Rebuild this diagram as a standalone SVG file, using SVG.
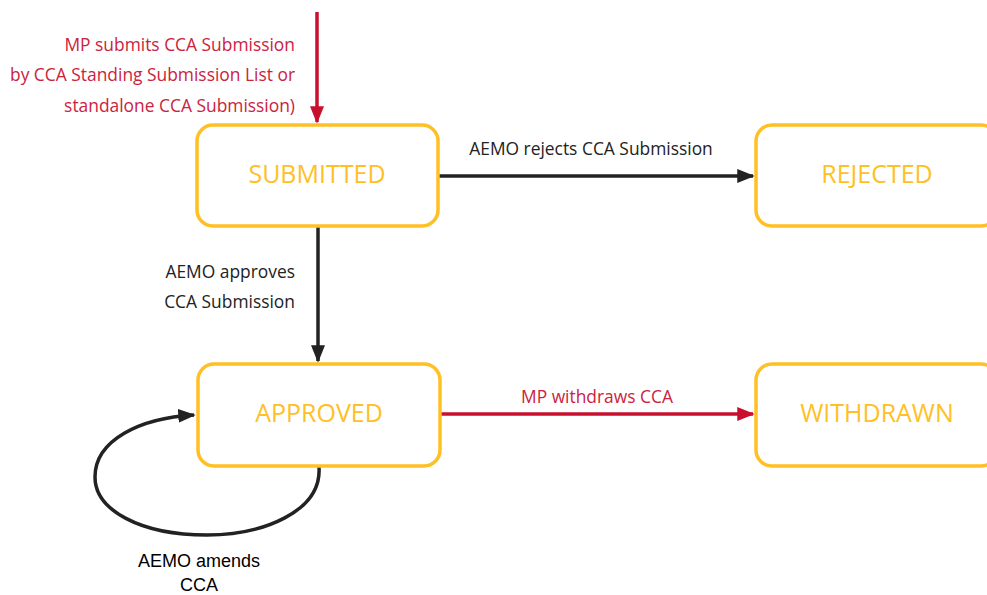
<svg xmlns="http://www.w3.org/2000/svg" width="987" height="595" viewBox="0 0 987 595">
<style>
.box{fill:#fff;stroke:#FFC025;stroke-width:3.5}
.st{font-family:"Open Sans","Noto Sans",sans-serif;font-size:25px;fill:#FFC025;text-anchor:middle}
.lbl{font-family:"Open Sans","Noto Sans",sans-serif;font-size:17.4px;fill:#222}
.red{fill:#CC2240}
.blk{stroke:#222;stroke-width:3.5;fill:none}
.rline{stroke:#C8102E;stroke-width:3.5;fill:none}
.ar{font-family:"Liberation Sans",Arial,sans-serif;font-size:18px;fill:#000;text-anchor:middle}
</style>
<defs>
<marker id="ab" markerWidth="5" markerHeight="4" refX="4.5" refY="2" orient="auto" markerUnits="strokeWidth"><path d="M0,0 L5,2 L0,4 Z" fill="#222"/></marker>
<marker id="ar" markerWidth="5" markerHeight="4" refX="4.5" refY="2" orient="auto" markerUnits="strokeWidth"><path d="M0,0 L5,2 L0,4 Z" fill="#C8102E"/></marker>
</defs>
<rect width="987" height="595" fill="#fff"/>
<g id="connectors">
<line class="rline" x1="317" y1="12" x2="317" y2="122" marker-end="url(#ar)"/>
<line class="blk" x1="439" y1="176" x2="753" y2="176" marker-end="url(#ab)"/>
<line class="blk" x1="318" y1="227" x2="318" y2="361" marker-end="url(#ab)"/>
<line class="rline" x1="440" y1="414" x2="753" y2="414" marker-end="url(#ar)"/>
<path class="blk" d="M319 467 C322 512 262 535 207 535 C140 535 95 510 95 477 C95 440 140 418 194 415" marker-end="url(#ab)"/>
<text x="295" y="51" text-anchor="end" class="lbl red">MP submits CCA Submission</text>
<text x="295" y="81" text-anchor="end" class="lbl red">by CCA Standing Submission List or</text>
<text x="295" y="112" text-anchor="end" class="lbl red">standalone CCA Submission)</text>
<text x="591" y="155" text-anchor="middle" class="lbl">AEMO rejects CCA Submission</text>
<text x="295" y="278" text-anchor="end" class="lbl">AEMO approves</text>
<text x="295" y="308" text-anchor="end" class="lbl">CCA Submission</text>
<text x="597" y="403" text-anchor="middle" class="lbl red">MP withdraws CCA</text>
<text x="199" y="567" class="ar">AEMO amends</text>
<text x="199" y="591" class="ar">CCA</text>
</g>
<g id="submitted">
<rect class="box" x="197" y="125" width="241" height="101" rx="16"/>
<text class="st" x="317" y="183">SUBMITTED</text>
</g>
<g id="rejected">
<rect class="box" x="756" y="125" width="241" height="101" rx="16"/>
<text class="st" x="877" y="183">REJECTED</text>
</g>
<g id="approved">
<rect class="box" x="198" y="364" width="242" height="102" rx="16"/>
<text class="st" x="319" y="422">APPROVED</text>
</g>
<g id="withdrawn">
<rect class="box" x="756" y="364" width="241" height="102" rx="16"/>
<text class="st" x="877" y="422">WITHDRAWN</text>
</g>
</svg>
